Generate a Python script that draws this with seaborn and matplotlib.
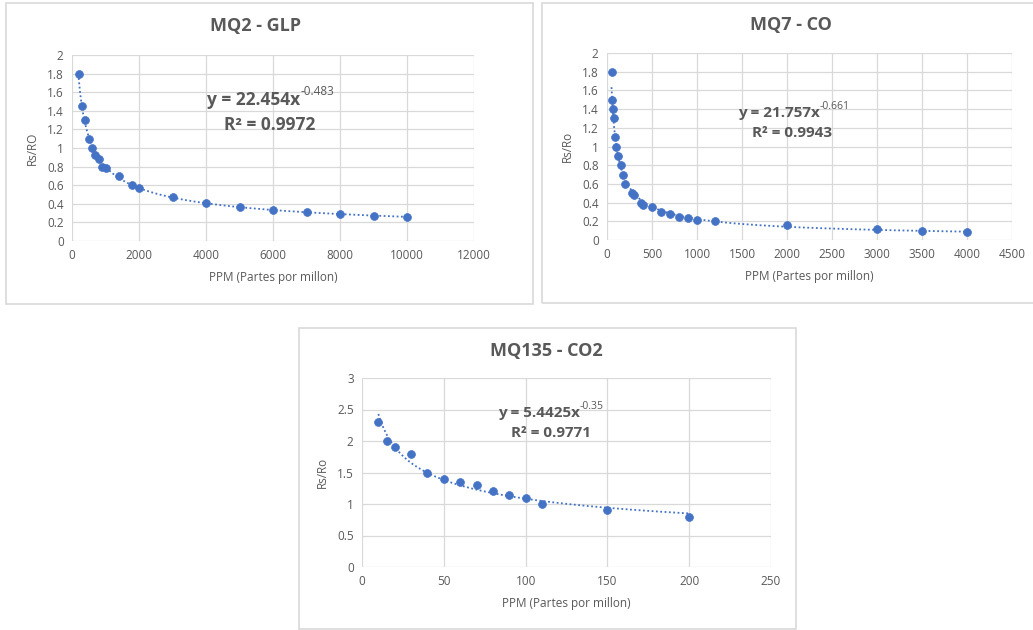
import numpy as np
import pandas as pd
import matplotlib
matplotlib.use('Agg')
import matplotlib.pyplot as plt
import seaborn as sns
from matplotlib.patches import Rectangle

# MQ2 - GLP
mq2_ppm = [200, 300, 400, 500, 600, 700, 800, 900, 1000, 1400, 1800, 2000,
           3000, 4000, 5000, 6000, 7000, 8000, 9000, 10000]
mq2_rs = [1.8, 1.45, 1.3, 1.1, 1.0, 0.92, 0.88, 0.8, 0.79, 0.7, 0.6, 0.575,
          0.475, 0.41, 0.37, 0.33, 0.31, 0.29, 0.27, 0.26]

# MQ7 - CO
mq7_ppm = [50, 60, 70, 80, 90, 100, 120, 150, 180, 200, 280, 300, 380, 400,
           500, 600, 700, 800, 900, 1000, 1200, 2000, 3000, 3500, 4000]
mq7_rs = [1.8, 1.5, 1.4, 1.3, 1.1, 1.0, 0.9, 0.8, 0.7, 0.6, 0.5, 0.48, 0.4,
          0.375, 0.35, 0.3, 0.28, 0.25, 0.23, 0.21, 0.2, 0.165, 0.12, 0.1, 0.09]

# MQ135 - CO2
mq135_ppm = [10, 15, 20, 30, 40, 50, 60, 70, 80, 90, 100, 110, 150, 200]
mq135_rs = [2.3, 2.0, 1.9, 1.8, 1.5, 1.4, 1.35, 1.3, 1.2, 1.15, 1.1, 1.0, 0.9, 0.8]

BLUE = '#4472C4'
GREY = '#595959'

sns.set_style("whitegrid")
plt.rcParams['font.family'] = ['Open Sans', 'DejaVu Sans']

W, H = 1033, 630
fig = plt.figure(figsize=(W / 100, H / 100), dpi=100)


def px_axes(x0, y0, x1, y1):
    # pixel box (top-left origin) -> axes
    return fig.add_axes([x0 / W, 1 - y1 / H, (x1 - x0) / W, (y1 - y0) / H])


def frame(x0, y0, x1, y1):
    fig.patches.append(Rectangle((x0 / W, 1 - y1 / H), (x1 - x0) / W, (y1 - y0) / H,
                                 transform=fig.transFigure, fill=False,
                                 edgecolor='#D9D9D9', linewidth=1.2))


def panel(ax, ppm, rs, title, title_xy, ylabel, xmax, xstep, ymax, ystep,
          eq, exp, r2, eq_xy, eq_size):
    ppm = np.array(ppm, dtype=float)
    rs = np.array(rs, dtype=float)
    # power trendline like Excel (fit in log-log space)
    b, loga = np.polyfit(np.log(ppm), np.log(rs), 1)
    xs = np.linspace(ppm.min(), ppm.max(), 300)
    trend = pd.DataFrame({'x': xs, 'y': np.exp(loga) * xs ** b})
    sns.lineplot(data=trend, x='x', y='y', ax=ax, color=BLUE, linewidth=1.3,
                 linestyle=(0, (1, 1.4)), zorder=3)
    sns.scatterplot(x=ppm, y=rs, ax=ax, color=BLUE, s=32, edgecolor=BLUE,
                    linewidth=0.5, zorder=4)
    ax.set_xlim(0, xmax)
    ax.set_ylim(0, ymax)
    ax.set_xticks(np.arange(0, xmax + xstep / 2, xstep))
    yt = np.arange(0, ymax + ystep / 2, ystep)
    ax.set_yticks(yt)
    ax.set_yticklabels([f'{v:g}' for v in yt])
    ax.grid(True, color='#D9D9D9', linewidth=0.9)
    for s in ax.spines.values():
        s.set_visible(False)
    ax.tick_params(length=0, labelsize=8.5, labelcolor=GREY, pad=6)
    ax.set_xlabel('PPM (Partes por millon)', fontsize=8.5, color=GREY, labelpad=6)
    ax.set_ylabel(ylabel, fontsize=8.5, color=GREY, labelpad=6)
    fig.text(title_xy[0] / W, 1 - title_xy[1] / H, title, ha='center', va='center',
             fontsize=13, fontweight='bold', color=GREY)
    # equation: main part ends a bit right of centre, exponent as superscript
    t = ax.text(eq_xy[0], eq_xy[1], eq, ha='right', va='center', fontsize=eq_size,
                color=GREY, fontweight='bold')
    ax.annotate(exp, xy=(1, 0.95), xycoords=t, ha='left', va='center',
                fontsize=eq_size * 0.68, color=GREY)
    ax.text(eq_xy[2], eq_xy[3], r2, ha='center', va='center', fontsize=eq_size,
            color=GREY, fontweight='bold')


frame(6, 3, 533, 304)
frame(542, 3, 1040, 303)
frame(299, 328, 796, 629)

ax1 = px_axes(72, 55, 474, 241)
panel(ax1, mq2_ppm, mq2_rs, 'MQ2 - GLP', (256, 26), 'Rs/RO', 12000, 2000, 2, 0.2,
      'y = 22.454x', '-0.483', 'R² = 0.9972', (6820, 1.52, 5910, 1.25), 12.5)

ax2 = px_axes(607, 53, 1012, 240)
panel(ax2, mq7_ppm, mq7_rs, 'MQ7 - CO', (791, 25), 'Rs/Ro', 4500, 500, 2, 0.2,
      'y = 21.757x', '-0.661', 'R² = 0.9943', (2360, 1.36, 2056, 1.14), 11)

ax3 = px_axes(362, 378, 771, 567)
panel(ax3, mq135_ppm, mq135_rs, 'MQ135 - CO2', (546, 351), 'Rs/Ro', 250, 50, 3, 0.5,
      'y = 5.4425x', '-0.35', 'R² = 0.9771', (133, 2.44, 115.5, 2.13), 11)

fig.savefig('out.png', dpi=100, facecolor='white')
